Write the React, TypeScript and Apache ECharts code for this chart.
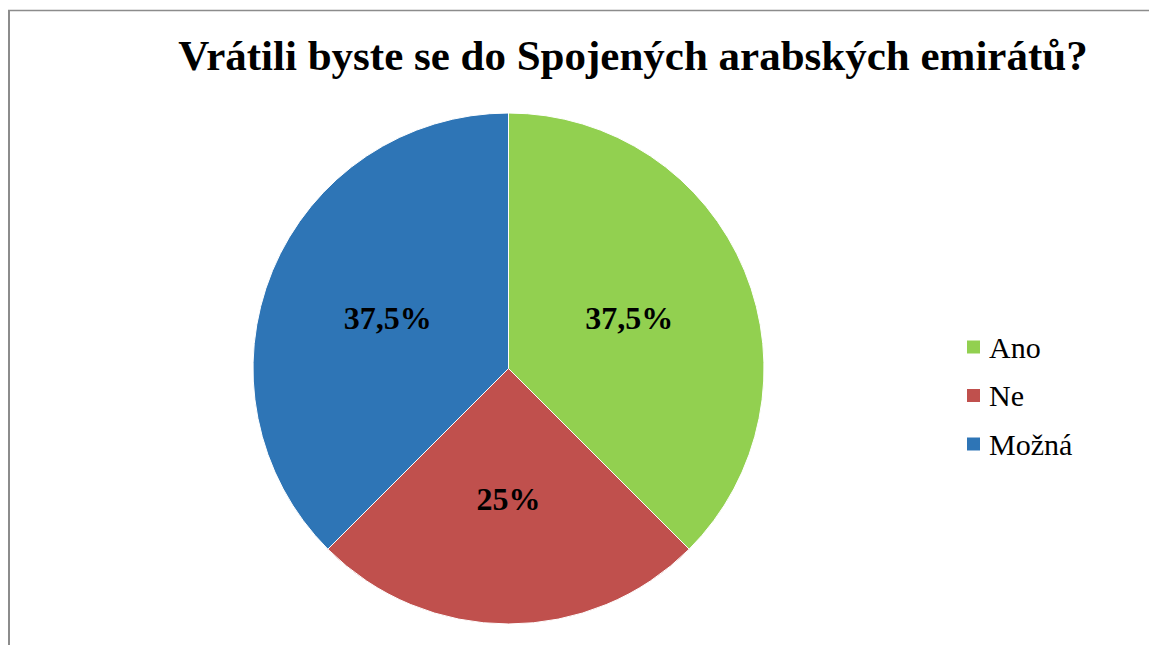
import React, { useEffect, useRef } from "react";
import * as echarts from "echarts";

const titleText = "Vrátili byste se do Spojených arabských emirátů?";
const categories = ["Ano", "Ne", "Možná"];
const values = [37.5, 25, 37.5];
const colors = ["#92D050", "#C0504D", "#2E75B6"];

export default function App() {
  const ref = useRef<HTMLDivElement>(null);
  useEffect(() => {
    document.body.style.margin = "0";
    const chart = echarts.init(ref.current!, null, { renderer: "svg" });
    const serif = "Liberation Serif";
    chart.setOption({
      animation: false,
      backgroundColor: "#ffffff",
      title: {
        text: titleText,
        left: 628,
        textAlign: "center",
        top: 29,
        textStyle: {
          fontFamily: serif,
          fontWeight: "bold",
          fontSize: 43,
          color: "#000",
        },
      },
      legend: {
        orient: "vertical",
        left: 960,
        top: 327,
        icon: "rect",
        itemWidth: 15,
        itemHeight: 15,
        itemGap: 18.5,
        data: categories,
        textStyle: {
          fontFamily: serif,
          fontSize: 30,
          lineHeight: 30,
          color: "#000",
          padding: [0, 0, 0, 3],
        },
      },
      graphic: [
        {
          type: "line",
          shape: { x1: 9, y1: 10, x2: 9, y2: 645 },
          style: { stroke: "#8c8c8c", lineWidth: 2 },
        },
        {
          type: "line",
          shape: { x1: 8, y1: 10.5, x2: 1149, y2: 10.5 },
          style: { stroke: "#8c8c8c", lineWidth: 1.5 },
        },
      ],
      series: [
        {
          type: "pie",
          center: [508.5, 368.5],
          radius: 255.5,
          startAngle: 90,
          clockwise: true,
          data: categories.map((c, i) => ({
            name: c,
            value: values[i],
            itemStyle: { color: colors[i] },
          })),
          itemStyle: { borderColor: "#ffffff", borderWidth: 1 },
          label: {
            show: true,
            position: "inside",
            formatter: (p: any) => String(p.value).replace(".", ",") + "%",
            fontFamily: serif,
            fontWeight: "bold",
            fontSize: 32,
            color: "#000",
          },
          labelLine: { show: false },
          emphasis: { disabled: true },
        },
      ],
    });
    return () => chart.dispose();
  }, []);
  return <div ref={ref} style={{ width: 1149, height: 645 }} />;
}
